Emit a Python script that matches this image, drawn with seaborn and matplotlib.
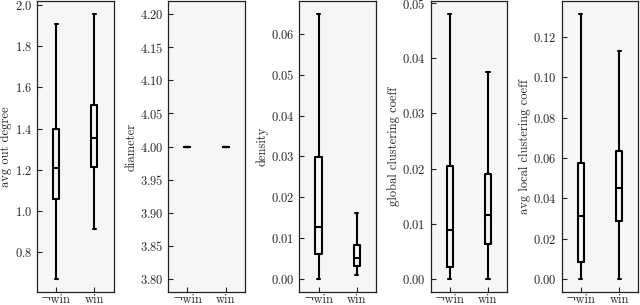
import numpy as np
import pandas as pd
import matplotlib
matplotlib.use("Agg")
import matplotlib.pyplot as plt
import seaborn as sns

sns.set_style("ticks")
plt.rcParams['font.family'] = ['cmr10', 'DejaVu Serif']
plt.rcParams['mathtext.fontset'] = 'cm'
plt.rcParams['axes.formatter.use_mathtext'] = True

groups = ["¬win", "win"]
metrics = ["avg out degree", "diameter", "density",
           "global clustering coeff", "avg local clustering coeff"]

# five-number summaries per group: min, q1, median, q3, max
avg_out_degree_notwin = [0.671, 1.060, 1.208, 1.398, 1.907]
avg_out_degree_win = [0.915, 1.213, 1.353, 1.514, 1.955]
diameter_notwin = [4.0, 4.0, 4.0, 4.0, 4.0]
diameter_win = [4.0, 4.0, 4.0, 4.0, 4.0]
density_notwin = [0.0, 0.0061, 0.0126, 0.0298, 0.0649]
density_win = [0.0010, 0.0032, 0.0052, 0.0083, 0.0161]
global_cc_notwin = [0.0, 0.0021, 0.0088, 0.0205, 0.0480]
global_cc_win = [0.0, 0.0063, 0.0116, 0.0191, 0.0375]
local_cc_notwin = [0.0, 0.0083, 0.0312, 0.0577, 0.1314]
local_cc_win = [0.0, 0.0286, 0.0453, 0.0634, 0.1129]

series = [
    (avg_out_degree_notwin, avg_out_degree_win),
    (diameter_notwin, diameter_win),
    (density_notwin, density_win),
    (global_cc_notwin, global_cc_win),
    (local_cc_notwin, local_cc_win),
]

fig = plt.figure(figsize=(6.4, 3.05), dpi=100)
W, H = 640, 305
ax_w = 76.5
step = 131.2
left0 = 37
bottom_px = 292
top_px = 1

for i, (name, (a, b)) in enumerate(zip(metrics, series)):
    l = (left0 + step * i) / W
    ax = fig.add_axes([l, 1 - bottom_px / H, ax_w / W, (bottom_px - top_px) / H])
    ax.set_facecolor('#f6f6f6')
    df = pd.DataFrame({
        "group": [groups[0]] * len(a) + [groups[1]] * len(b),
        "value": list(a) + list(b),
    })
    sns.boxplot(data=df, x="group", y="value", order=groups, ax=ax,
                whis=(0, 100), width=0.16, fill=False, color="black",
                linewidth=1.5)
    ax.set_xlim(-0.5, 1.5)
    ax.set_xlabel("")
    ax.set_ylabel(name, fontsize=9, labelpad=1.5)
    ax.tick_params(direction='in', length=3.5, width=0.8, labelsize=9,
                   color='#222222')
    ax.tick_params(axis='x', pad=1.5)
    for s in ax.spines.values():
        s.set_visible(True)
        s.set_color('#222222')
        s.set_linewidth(0.9)

fig.savefig("out.png", dpi=100)
